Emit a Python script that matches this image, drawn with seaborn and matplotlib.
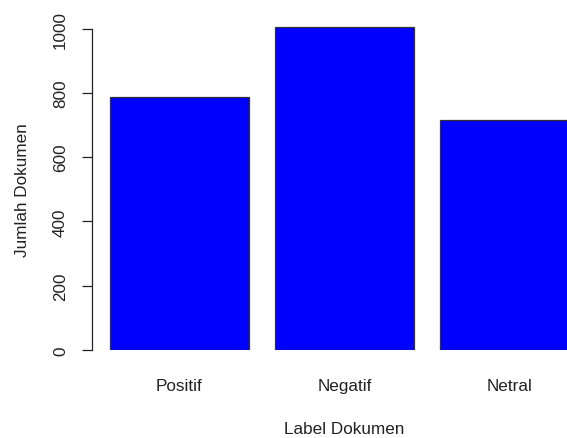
import matplotlib
matplotlib.use("Agg")
import matplotlib.pyplot as plt
import seaborn as sns
import pandas as pd

# data
labels = ["Positif", "Negatif", "Netral"]
counts = [788, 1004, 714]

df = pd.DataFrame({"Label Dokumen": labels, "Jumlah Dokumen": counts})

sns.set_style("white")
plt.rcParams['font.family'] = ['Liberation Sans', 'DejaVu Sans']

W, H = 567, 439
fig = plt.figure(figsize=(W / 100, H / 100), dpi=100, facecolor='white')
# axes in pixel terms: left spine at x=92, zero line at y=351
ax = fig.add_axes([92 / W, (H - 351) / H, (W - 92) / W, (351 - 10) / H])

sns.barplot(data=df, x="Label Dokumen", y="Jumlah Dokumen", ax=ax,
            color="#0000FF", saturation=1, width=0.84,
            edgecolor="#333333", linewidth=0.9)

ax.set_xlim(-0.530, 2.348)
ax.set_ylim(0, 341 / 0.3215)

for s in ["top", "right", "bottom"]:
    ax.spines[s].set_visible(False)
ax.spines["left"].set_bounds(0, 1000)
ax.spines["left"].set_color("#222222")
ax.spines["left"].set_linewidth(0.9)

ax.set_yticks([0, 200, 400, 600, 800, 1000])
ax.set_yticklabels(["0", "200", "400", "600", "800", "1000"], rotation=90, va="center")
ax.tick_params(axis="y", length=7.2, width=0.9, color="#222222", pad=10,
               labelsize=12.3, left=True)
ax.tick_params(axis="x", length=0, pad=20.5, labelsize=12.3)
for t in ax.get_xticklabels() + ax.get_yticklabels():
    t.set_color("#222222")

ax.set_xlabel("Label Dokumen", fontsize=12.3, color="#222222")
ax.set_ylabel("Jumlah Dokumen", fontsize=12.3, color="#222222")
ax.xaxis.set_label_coords(0.5305, -0.229)
ax.yaxis.set_label_coords(-0.147, 0.472)
ax.xaxis.label.set_va("center")
ax.yaxis.label.set_va("center")

fig.savefig("out.png", dpi=100, facecolor='white')
